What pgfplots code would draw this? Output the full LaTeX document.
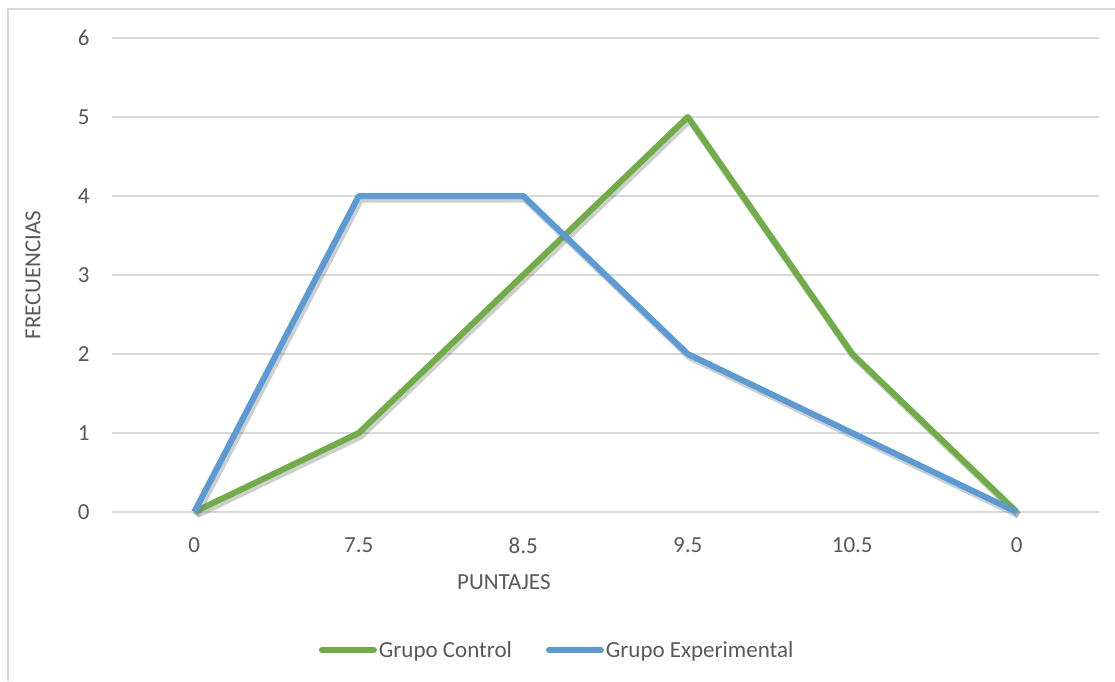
\documentclass[border=0pt]{standalone}
\usepackage{pgfplots}
\pgfplotsset{compat=1.18}
\usepackage{fontspec}
\setmainfont{Carlito}
\definecolor{gridc}{HTML}{D9D9D9}
\definecolor{txt}{HTML}{595959}
\definecolor{cgreen}{HTML}{70AD47}
\definecolor{cblue}{HTML}{5B9BD5}
\begin{document}
\begin{tikzpicture}[x=1pt,y=1pt]
\path[use as bounding box] (0,0) rectangle (1115,681);
\fill[white] (0,0) rectangle (1115,681);
\draw[gridc, line width=1.5pt] (8,0) -- (8,672) -- (1115,672);
\begin{axis}[
  at={(112pt,169pt)}, anchor=south west,
  scale only axis, width=987pt, height=474pt,
  xmin=-0.5, xmax=5.5, ymin=0, ymax=6,
  xtick={0,1,2,3,4,5},
  xticklabels={0,7.5,8.5,9.5,10.5,0},
  ytick={0,1,2,3,4,5,6},
  axis line style={draw=none},
  tick style={draw=none},
  major tick length=0pt,
  xmajorgrids=false, ymajorgrids=true,
  grid style={draw=gridc, line width=1.5pt},
  font=\fontsize{23}{27}\selectfont,
  tick label style={text=txt, font=\fontsize{23}{27}\selectfont},
  /pgf/number format/assume math mode=true,
  yticklabel style={xshift=-19pt},
  xticklabel style={yshift=-22pt},
  xlabel={PUNTAJES},
  ylabel={FRECUENCIAS},
  x label style={text=txt, at={(axis description cs:0.397,0)}, anchor=center, yshift=-70pt},
  y label style={text=txt, at={(axis description cs:-0.08,0.5)}, anchor=center},
  legend columns=2,
  legend style={at={(axis description cs:0.451,-0.291)}, anchor=center, draw=none, fill=none,
    font=\fontsize{23}{27}\selectfont, text=txt, inner sep=0pt,
    /tikz/every even column/.append style={column sep=32pt}},
  legend image code/.code={\draw[#1, line cap=round] (0pt,0pt) -- (52pt,0pt);},
  clip=false,
]
\addplot[black!55, opacity=0.35, line width=7pt, line join=round, xshift=2pt, yshift=-3pt, forget plot]
  coordinates {(0,0) (1,1) (2,3) (3,5) (4,2) (5,0)};
\addplot[cgreen, line width=6pt, line join=round]
  coordinates {(0,0) (1,1) (2,3) (3,5) (4,2) (5,0)};
\addlegendentry{Grupo Control}
\addplot[black!55, opacity=0.35, line width=7pt, line join=round, xshift=2pt, yshift=-3pt, forget plot]
  coordinates {(0,0) (1,4) (2,4) (3,2) (4,1) (5,0)};
\addplot[cblue, line width=6pt, line join=round]
  coordinates {(0,0) (1,4) (2,4) (3,2) (4,1) (5,0)};
\addlegendentry{Grupo Experimental}
\end{axis}
\end{tikzpicture}
\end{document}
